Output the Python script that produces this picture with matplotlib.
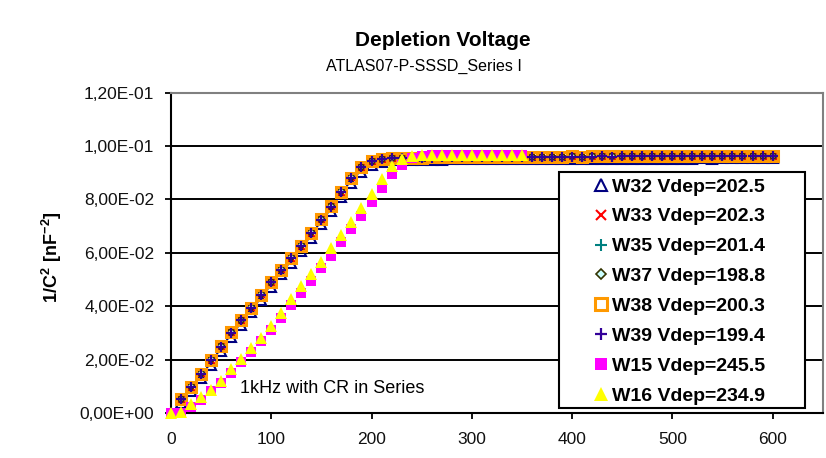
"""
Depletion voltage plot: 1/C^2 versus bias voltage for ATLAS07 P-SSSD wafers.
"""

import matplotlib
matplotlib.use("Agg")
import matplotlib.pyplot as plt
from matplotlib.patches import Rectangle
from matplotlib.ticker import FuncFormatter, MultipleLocator

plt.rcParams["font.family"] = ["Liberation Sans", "DejaVu Sans"]
plt.rcParams["mathtext.fontset"] = "custom"
plt.rcParams["mathtext.rm"] = "Liberation Sans"
plt.rcParams["mathtext.bf"] = "Liberation Sans:bold"

# Bias voltage grid (V)
voltage_a = list(range(10, 610, 10))   # W32..W39
voltage_b = list(range(0, 360, 10))    # W15, W16

# 1/C^2 values (nF^-2)
w32 = [0.0038, 0.0082, 0.0130, 0.0181, 0.0232, 0.0284, 0.0330, 0.0377, 0.0425, 0.0472,
       0.0519, 0.0563, 0.0608, 0.0657, 0.0707, 0.0756, 0.0808, 0.0862, 0.0904, 0.0930,
       0.0941, 0.0946, 0.0948, 0.0948, 0.0949, 0.0949, 0.0949, 0.0950, 0.0950, 0.0950,
       0.0950, 0.0951, 0.0950, 0.0951, 0.0951, 0.0951, 0.0951, 0.0951, 0.0952, 0.0951,
       0.0952, 0.0952, 0.0952, 0.0952, 0.0952, 0.0953, 0.0952, 0.0953, 0.0953, 0.0953,
       0.0953, 0.0953, 0.0954, 0.0953, 0.0954, 0.0954, 0.0954, 0.0954, 0.0954, 0.0954]
w33 = [0.0053, 0.0099, 0.0148, 0.0200, 0.0251, 0.0302, 0.0349, 0.0396, 0.0444, 0.0490,
       0.0538, 0.0582, 0.0627, 0.0676, 0.0726, 0.0775, 0.0829, 0.0883, 0.0922, 0.0945,
       0.0952, 0.0956, 0.0957, 0.0958, 0.0958, 0.0959, 0.0959, 0.0959, 0.0960, 0.0959,
       0.0960, 0.0960, 0.0960, 0.0961, 0.0960, 0.0961, 0.0961, 0.0961, 0.0961, 0.0962,
       0.0961, 0.0962, 0.0962, 0.0962, 0.0962, 0.0962, 0.0963, 0.0962, 0.0963, 0.0963,
       0.0963, 0.0963, 0.0963, 0.0963, 0.0964, 0.0963, 0.0964, 0.0964, 0.0964, 0.0964]
w35 = [0.0052, 0.0098, 0.0147, 0.0199, 0.0250, 0.0302, 0.0348, 0.0395, 0.0443, 0.0490,
       0.0537, 0.0581, 0.0626, 0.0675, 0.0725, 0.0774, 0.0828, 0.0882, 0.0922, 0.0944,
       0.0951, 0.0955, 0.0957, 0.0957, 0.0958, 0.0958, 0.0959, 0.0959, 0.0959, 0.0959,
       0.0960, 0.0960, 0.0960, 0.0960, 0.0960, 0.0961, 0.0960, 0.0961, 0.0961, 0.0961,
       0.0961, 0.0961, 0.0962, 0.0961, 0.0962, 0.0962, 0.0962, 0.0962, 0.0962, 0.0962,
       0.0963, 0.0962, 0.0963, 0.0963, 0.0963, 0.0963, 0.0963, 0.0963, 0.0963, 0.0964]
w37 = [0.0054, 0.0100, 0.0149, 0.0201, 0.0252, 0.0304, 0.0350, 0.0397, 0.0445, 0.0492,
       0.0539, 0.0583, 0.0628, 0.0677, 0.0727, 0.0776, 0.0830, 0.0884, 0.0923, 0.0945,
       0.0952, 0.0955, 0.0956, 0.0957, 0.0957, 0.0958, 0.0958, 0.0958, 0.0959, 0.0958,
       0.0959, 0.0959, 0.0959, 0.0960, 0.0959, 0.0960, 0.0960, 0.0960, 0.0960, 0.0961,
       0.0960, 0.0961, 0.0961, 0.0961, 0.0961, 0.0961, 0.0962, 0.0961, 0.0962, 0.0962,
       0.0962, 0.0962, 0.0962, 0.0962, 0.0963, 0.0962, 0.0963, 0.0963, 0.0963, 0.0963]
w38 = [0.0052, 0.0098, 0.0147, 0.0199, 0.0250, 0.0302, 0.0348, 0.0395, 0.0443, 0.0490,
       0.0537, 0.0581, 0.0626, 0.0675, 0.0725, 0.0774, 0.0828, 0.0882, 0.0922, 0.0944,
       0.0951, 0.0955, 0.0956, 0.0957, 0.0957, 0.0958, 0.0958, 0.0958, 0.0959, 0.0958,
       0.0959, 0.0959, 0.0959, 0.0960, 0.0959, 0.0960, 0.0960, 0.0960, 0.0960, 0.0961,
       0.0960, 0.0961, 0.0961, 0.0961, 0.0961, 0.0961, 0.0962, 0.0961, 0.0962, 0.0962,
       0.0962, 0.0962, 0.0962, 0.0962, 0.0963, 0.0962, 0.0963, 0.0963, 0.0963, 0.0963]
w39 = [0.0051, 0.0097, 0.0146, 0.0198, 0.0249, 0.0301, 0.0347, 0.0394, 0.0442, 0.0489,
       0.0536, 0.0580, 0.0625, 0.0674, 0.0724, 0.0773, 0.0827, 0.0881, 0.0921, 0.0943,
       0.0950, 0.0954, 0.0956, 0.0956, 0.0957, 0.0957, 0.0958, 0.0958, 0.0958, 0.0958,
       0.0959, 0.0959, 0.0959, 0.0959, 0.0959, 0.0960, 0.0959, 0.0960, 0.0960, 0.0960,
       0.0960, 0.0960, 0.0961, 0.0960, 0.0961, 0.0961, 0.0961, 0.0961, 0.0961, 0.0961,
       0.0962, 0.0961, 0.0962, 0.0962, 0.0962, 0.0962, 0.0962, 0.0962, 0.0962, 0.0963]
w15 = [0.0000, 0.0001, 0.0022, 0.0050, 0.0082, 0.0112, 0.0150, 0.0191, 0.0229, 0.0270,
       0.0311, 0.0356, 0.0403, 0.0451, 0.0496, 0.0542, 0.0590, 0.0640, 0.0690, 0.0738,
       0.0792, 0.0842, 0.0894, 0.0930, 0.0954, 0.0963, 0.0965, 0.0966, 0.0966, 0.0967,
       0.0967, 0.0966, 0.0967, 0.0967, 0.0968, 0.0967]
w16 = [0.0000, 0.0005, 0.0035, 0.0060, 0.0087, 0.0120, 0.0163, 0.0203, 0.0244, 0.0282,
       0.0326, 0.0376, 0.0426, 0.0474, 0.0521, 0.0567, 0.0618, 0.0668, 0.0716, 0.0769,
       0.0821, 0.0877, 0.0924, 0.0952, 0.0962, 0.0965, 0.0966, 0.0966, 0.0967, 0.0966,
       0.0967, 0.0967, 0.0967, 0.0968, 0.0967, 0.0968]

labels = ["W32 Vdep=202.5", "W33 Vdep=202.3", "W35 Vdep=201.4", "W37 Vdep=198.8",
          "W38 Vdep=200.3", "W39 Vdep=199.4", "W15 Vdep=245.5", "W16 Vdep=234.9"]

# (x, y, marker style) per series, in drawing order
series = [
    (voltage_a, w32, dict(marker="^", ms=7, mfc="none", mec="#000080", mew=1.5)),
    (voltage_a, w33, dict(marker="x", ms=6, mec="#FF0000", mew=1.5)),
    (voltage_a, w35, dict(marker="+", ms=7, mec="#008080", mew=1.5)),
    (voltage_a, w37, dict(marker="D", ms=4.5, mfc="#CCFFFF", mec="#333300", mew=1.2)),
    (voltage_a, w38, dict(marker="s", ms=7, mfc="none", mec="#FF9900", mew=2.2)),
    (voltage_a, w39, dict(marker="+", ms=7, mec="#330099", mew=1.6)),
    (voltage_b, w15, dict(marker="s", ms=7, mfc="#FF00FF", mec="#FF00FF", mew=0)),
    (voltage_b, w16, dict(marker="^", ms=8.5, mfc="#FFFF00", mec="#FFFF00", mew=0)),
]

W, H = 826, 458
fig = plt.figure(figsize=(W / 100, H / 100), dpi=100)
ax = fig.add_axes([171 / W, 45 / H, 651.7 / W, 320.3 / H])

for (x, y, style), label in zip(series, labels):
    ax.plot(x, y, linestyle="none", label=label, clip_on=False, zorder=3, **style)

ax.set_xlim(0, 650)
ax.set_ylim(0, 0.12)
ax.xaxis.set_major_locator(MultipleLocator(100))
ax.yaxis.set_major_locator(MultipleLocator(0.02))
ax.yaxis.set_major_formatter(FuncFormatter(lambda v, p: f"{v:.2E}".replace(".", ",")))

ax.set_axisbelow(True)
ax.grid(axis="y", color="black", linewidth=1.4)
ax.grid(axis="x", visible=False)

for side in ("left", "bottom"):
    ax.spines[side].set_color("black")
    ax.spines[side].set_linewidth(1.5)
for side in ("top", "right"):
    ax.spines[side].set_color("#808080")
    ax.spines[side].set_linewidth(1.5)

ax.tick_params(direction="out", length=4, width=1.3, color="black",
               labelsize=12.5, labelcolor="#111111")
ax.tick_params(axis="y", pad=8)
ax.tick_params(axis="x", pad=10)

# Titles and labels
fig.text(443 / W, 1 - 40 / H, "Depletion Voltage", ha="center", va="center",
         fontsize=15, fontweight="bold")
fig.text(424 / W, 1 - 66 / H, "ATLAS07-P-SSSD_Series I", ha="center", va="center",
         fontsize=11.5)
fig.text(52 / W, 1 - 257 / H, r"$\mathbf{1/C^2\ [nF^{-2}]}$", ha="center", va="center",
         rotation=90, fontsize=13)

ax.text(0.106, 0.078, "1kHz with CR in Series", transform=ax.transAxes,
        fontsize=13, va="center")

# Legend with a manually placed frame
frame = Rectangle((559 / W, 1 - 408 / H), 246 / W, 236 / H, transform=fig.transFigure,
                  facecolor="white", edgecolor="black", linewidth=1.5, zorder=5,
                  clip_on=False)
ax.add_patch(frame)
leg = ax.legend(loc="upper left", bbox_to_anchor=(595 / W, 1 - 178 / H),
                bbox_transform=fig.transFigure, frameon=False, borderpad=0,
                borderaxespad=0, handlelength=0.62, handletextpad=0.26,
                labelspacing=0.63, markerscale=1.15,
                prop={"weight": "bold", "size": 14})
leg.set_zorder(6)

fig.savefig("out.png", dpi=100)
plt.close(fig)
